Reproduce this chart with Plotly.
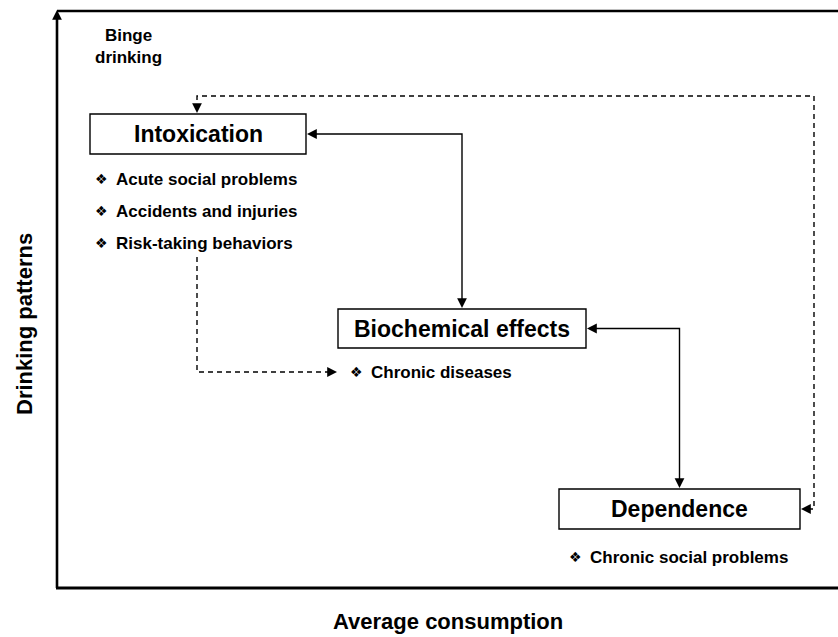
import plotly.graph_objects as go

# ---- data (diagram content and layout, pixel space) ----
node_names = ["Intoxication", "Biochemical effects", "Dependence"]
node_x0 = [90, 338, 559]
node_x1 = [306, 586, 800]
node_y0 = [114, 309, 489]
node_y1 = [154, 348, 529]

bullet_texts = ["Acute social problems", "Accidents and injuries", "Risk-taking behaviors",
                "Chronic diseases", "Chronic social problems"]
bullet_x = [94, 94, 94, 349, 568]
bullet_y = [179, 211, 243, 372, 557]

corner_label = "Binge<br>drinking"
x_title = "Average consumption"
y_title = "Drinking patterns"

W, H = 838, 637
FONT = "Liberation Sans, Arial, sans-serif"

fig = go.Figure()
fig.add_trace(go.Scatter(x=[0, W], y=[0, H], mode="markers", marker=dict(opacity=0),
                         hoverinfo="skip", showlegend=False))

shapes = []
# frame / axes
shapes.append(dict(type="line", x0=57, y0=588, x1=57, y1=16, line=dict(color="black", width=2.6)))
shapes.append(dict(type="line", x0=57, y0=11, x1=W, y1=11, line=dict(color="black", width=2.4)))
shapes.append(dict(type="line", x0=56, y0=588, x1=W, y1=588, line=dict(color="black", width=2.8)))

# boxes
for x0, x1, y0, y1 in zip(node_x0, node_x1, node_y0, node_y1):
    shapes.append(dict(type="rect", x0=x0, x1=x1, y0=y0, y1=y1,
                       line=dict(color="black", width=1.4), fillcolor="white"))

cx = [(a + b) / 2 for a, b in zip(node_x0, node_x1)]
cy = [(a + b) / 2 for a, b in zip(node_y0, node_y1)]

solid = dict(color="black", width=1.4)
dashed = dict(color="black", width=1.4, dash="5px,4px")

# Intoxication <-> Biochemical
shapes.append(dict(type="path", path=f"M {node_x1[0]+8},{cy[0]} L {cx[1]},{cy[0]} L {cx[1]},{node_y0[1]-8}",
                   line=solid))
# Biochemical <-> Dependence
shapes.append(dict(type="path", path=f"M {node_x1[1]+8},{cy[1]} L {cx[2]},{cy[1]} L {cx[2]},{node_y0[2]-8}",
                   line=solid))
# Dependence -> Intoxication (dashed loop)
loop_x, loop_y, loop_left = 814, 96, 197
shapes.append(dict(type="path",
                   path=f"M {node_x1[2]+8},{cy[2]} L {loop_x},{cy[2]} L {loop_x},{loop_y} L {loop_left},{loop_y} L {loop_left},{node_y0[0]-8}",
                   line=dashed))
# Risk-taking -> Chronic diseases (dashed)
shapes.append(dict(type="path",
                   path=f"M {loop_left},257 L {loop_left},{bullet_y[3]} L {bullet_x[3]-14},{bullet_y[3]}",
                   line=dashed))

annotations = []

def arrowhead(x, y, ax, ay):
    annotations.append(dict(x=x, y=y, xref="x", yref="y", ax=ax, ay=ay, text="",
                            showarrow=True, arrowhead=2, arrowsize=1.4, arrowwidth=1.4,
                            arrowcolor="black", standoff=0, startstandoff=0))

arrowhead(57, 10, 0, 12)                       # y-axis arrow
arrowhead(node_x1[0] + 1, cy[0], 10, 0)        # into Intoxication
arrowhead(cx[1], node_y0[1] - 1, 0, -10)       # into Biochemical (top)
arrowhead(node_x1[1] + 1, cy[1], 10, 0)        # into Biochemical (right)
arrowhead(cx[2], node_y0[2] - 1, 0, -10)       # into Dependence (top)
arrowhead(node_x1[2] + 1, cy[2], 10, 0)        # into Dependence (right, dashed)
arrowhead(loop_left, node_y0[0] - 1, 0, -10)   # into Intoxication (top, dashed)
arrowhead(bullet_x[3] - 12, bullet_y[3], -10, 0)  # to Chronic diseases

# node labels
for name, x, y in zip(node_names, cx, cy):
    annotations.append(dict(x=x, y=y, xref="x", yref="y", text=f"<b>{name}</b>", showarrow=False,
                            font=dict(family=FONT, size=23, color="black"),
                            xanchor="center", yanchor="middle"))

# bullets
for t, x, y in zip(bullet_texts, bullet_x, bullet_y):
    annotations.append(dict(x=x - 1, y=y, xref="x", yref="y", text="\u2756", showarrow=False,
                            font=dict(family="DejaVu Sans", size=14, color="black"),
                            xanchor="left", yanchor="middle"))
    annotations.append(dict(x=x + 20, y=y, xref="x", yref="y", text=f"<b>{t}</b>", showarrow=False,
                            font=dict(family=FONT, size=17, color="black"),
                            xanchor="left", yanchor="middle"))

annotations.append(dict(x=128, y=46, xref="x", yref="y", text=f"<b>{corner_label}</b>", showarrow=False,
                        font=dict(family=FONT, size=17, color="black"), align="center",
                        xanchor="center", yanchor="middle"))

annotations.append(dict(x=448, y=621, xref="x", yref="y", text=f"<b>{x_title}</b>", showarrow=False,
                        font=dict(family=FONT, size=22, color="black"),
                        xanchor="center", yanchor="middle"))
annotations.append(dict(x=24, y=324, xref="x", yref="y", text=f"<b>{y_title}</b>", showarrow=False,
                        font=dict(family=FONT, size=22, color="black"), textangle=-90,
                        xanchor="center", yanchor="middle"))

fig.update_layout(
    width=W, height=H, margin=dict(l=0, r=0, t=0, b=0),
    paper_bgcolor="white", plot_bgcolor="white",
    xaxis=dict(range=[0, W], visible=False, fixedrange=True),
    yaxis=dict(range=[H, 0], visible=False, fixedrange=True),
    shapes=shapes, annotations=annotations, showlegend=False,
)

fig.write_html("out.html", config={"displayModeBar": False},
               post_script="document.body.style.margin='0px';document.body.style.overflow='hidden';")
